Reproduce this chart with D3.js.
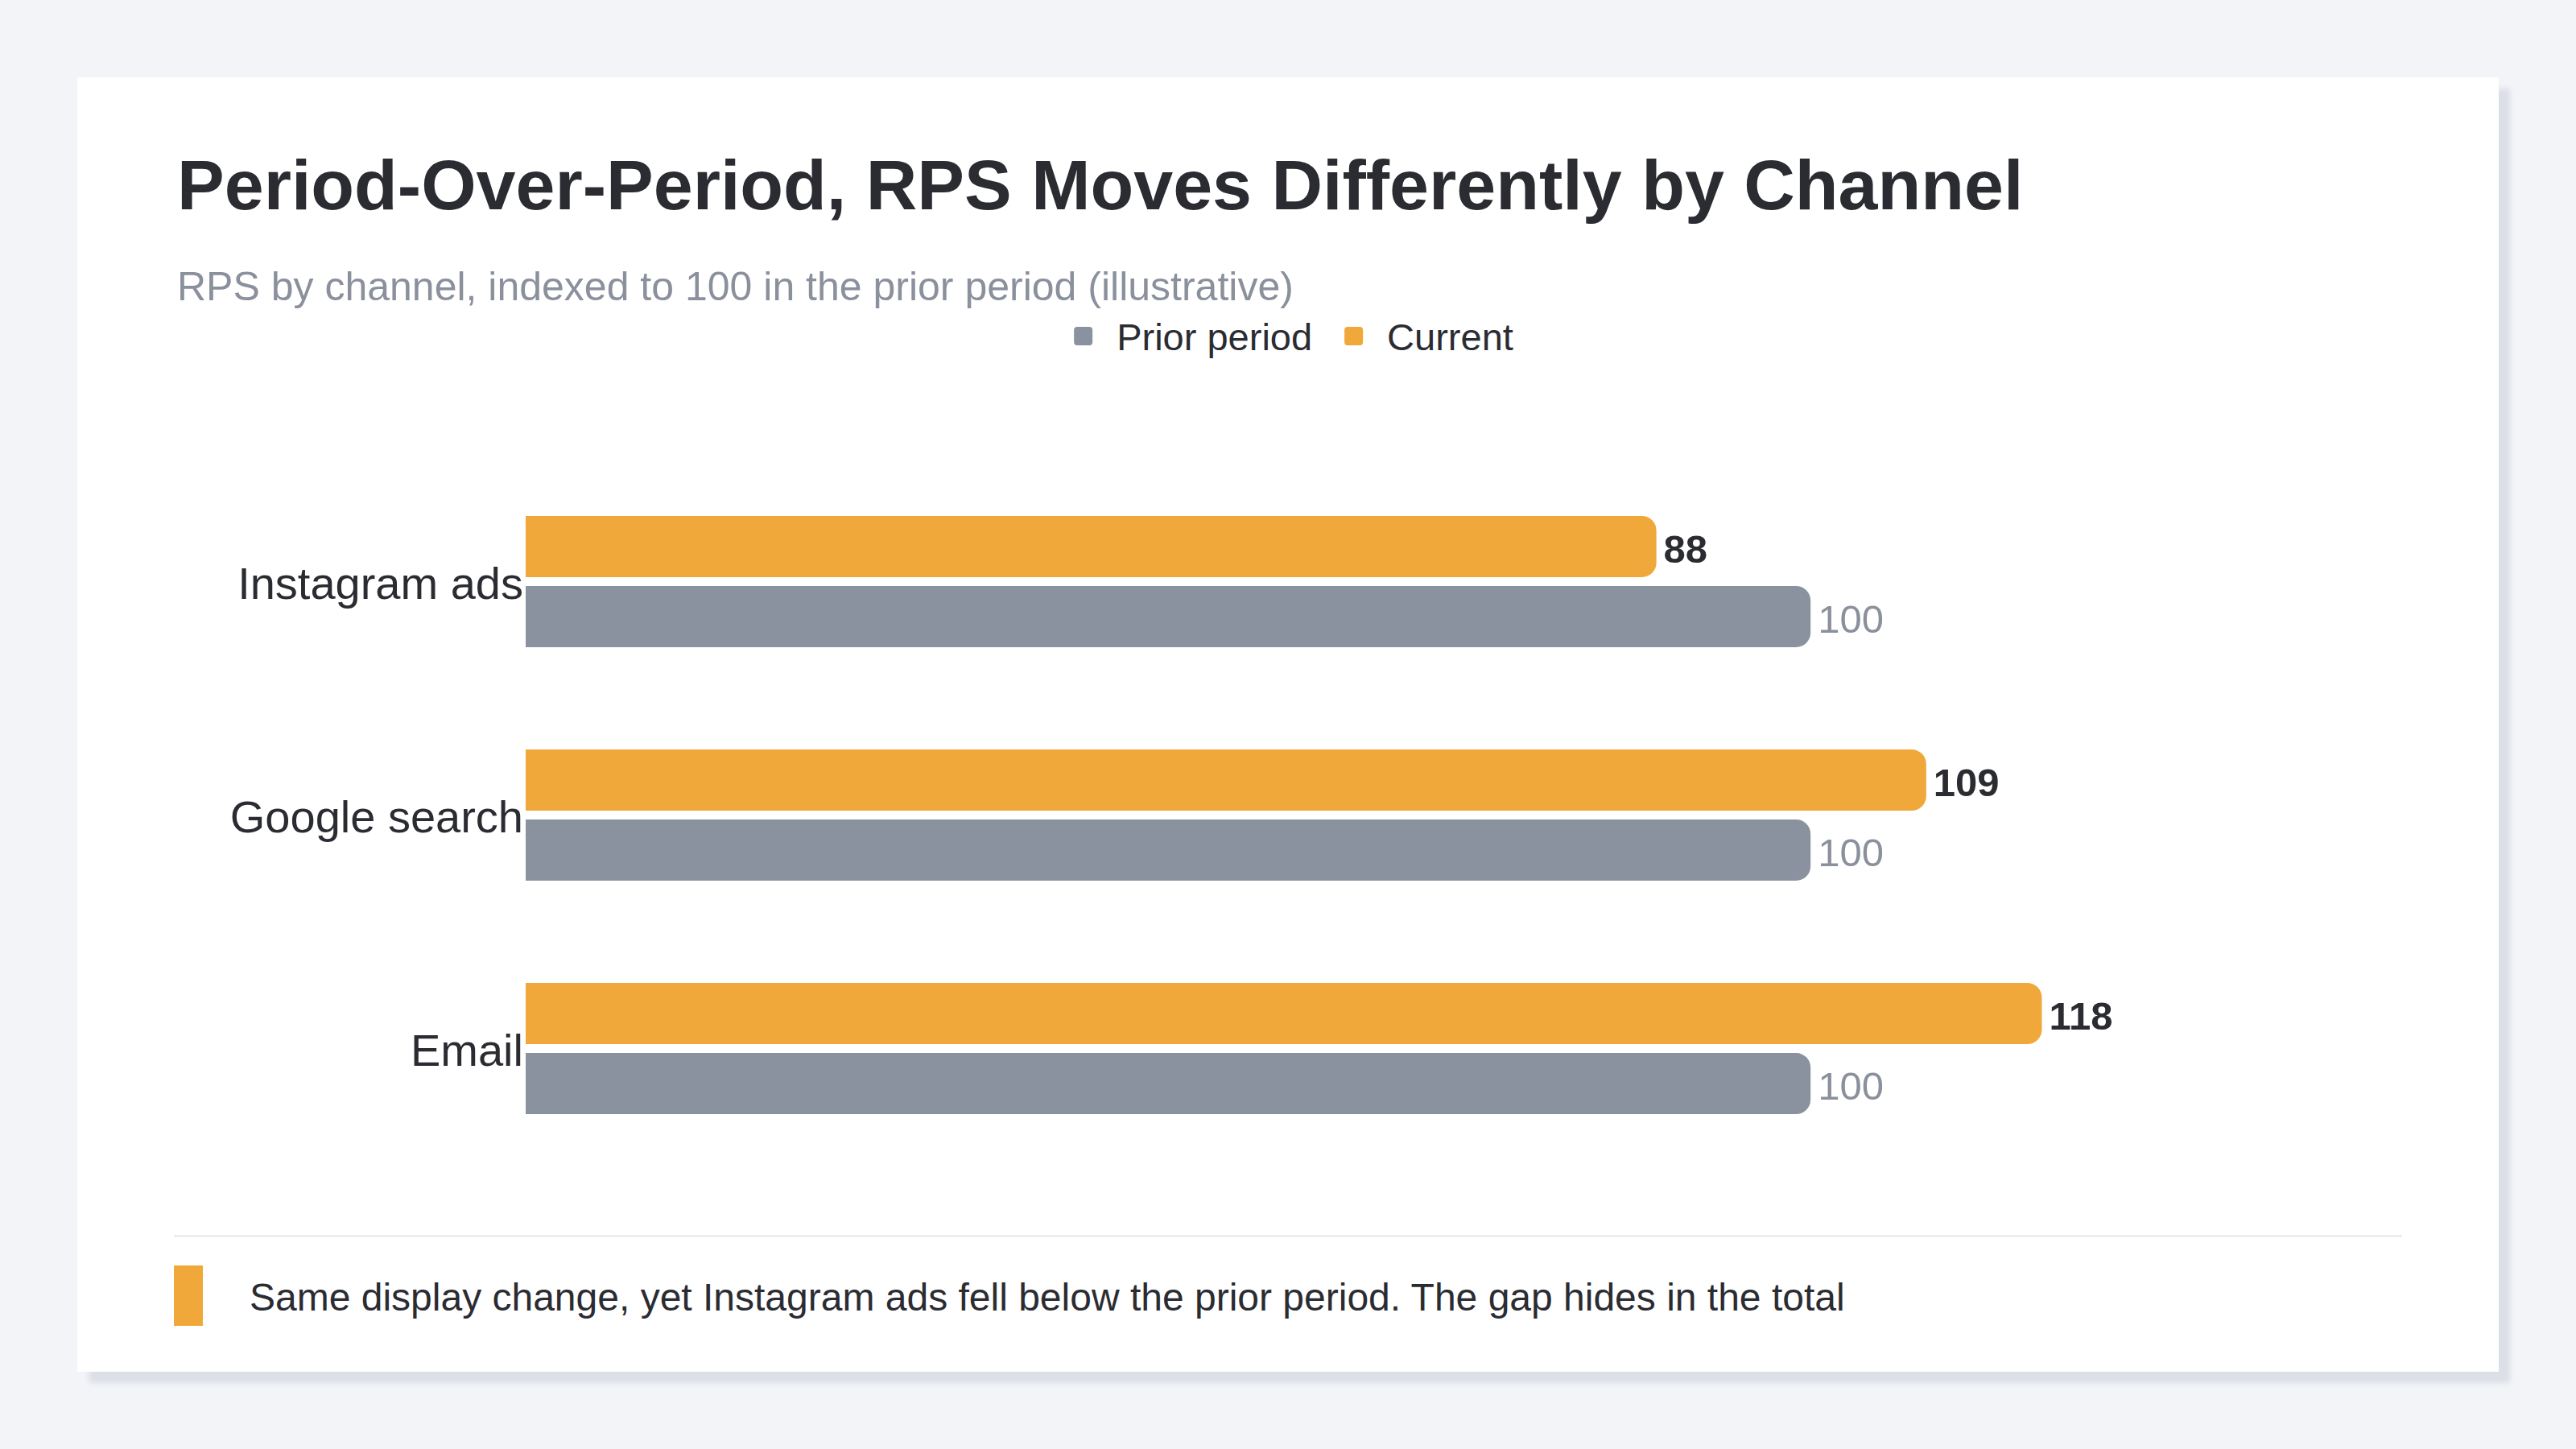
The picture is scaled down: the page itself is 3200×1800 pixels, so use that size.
<!DOCTYPE html>
<html>
<head>
<meta charset="utf-8">
<script src="https://cdn.jsdelivr.net/npm/d3@7"></script>
<style>
  html, body { margin: 0; padding: 0; background: #f3f4f8; }
  svg { display: block; }
  text { font-family: "Liberation Sans", Arial, Helvetica, sans-serif; }
</style>
</head>
<body>
<script>
// chart data
const channels = ["Instagram ads", "Google search", "Email"];
const priorValues = [100, 100, 100];
const currentValues = [88, 109, 118];
const seriesNames = ["Prior period", "Current"];
const seriesColors = ["#8a929f", "#f0a83a"];

const titleText = "Period-Over-Period, RPS Moves Differently by Channel";
const subtitleText = "RPS by channel, indexed to 100 in the prior period (illustrative)";
const noteText = "Same display change, yet Instagram ads fell below the prior period. The gap hides in the total";

const W = 3200, H = 1800;
const card = { x: 96, y: 96, w: 3008, h: 1608 };

const svg = d3.select("body").append("svg")
    .attr("width", W)
    .attr("height", H);

// background + card with a soft offset shadow
svg.append("rect").attr("width", W).attr("height", H).attr("fill", "#f3f4f8");

const defs = svg.append("defs");
defs.append("filter").attr("id", "blur")
    .attr("x", "-5%").attr("y", "-5%").attr("width", "110%").attr("height", "110%")
    .append("feGaussianBlur").attr("stdDeviation", 3);

svg.append("rect")
    .attr("x", card.x + 14).attr("y", card.y + 14)
    .attr("width", card.w).attr("height", card.h)
    .attr("fill", "#dcdfe6")
    .attr("filter", "url(#blur)");

svg.append("rect")
    .attr("x", card.x).attr("y", card.y)
    .attr("width", card.w).attr("height", card.h)
    .attr("fill", "#ffffff");

// title and subtitle
svg.append("text")
    .attr("x", 220).attr("y", 260)
    .style("font-size", "88px")
    .style("font-weight", "700")
    .attr("fill", "#2b2c32")
    .text(titleText);

svg.append("text")
    .attr("x", 220).attr("y", 373)
    .style("font-size", "50px")
    .attr("fill", "#8a909c")
    .text(subtitleText);

// scales
const x = d3.scaleLinear()
    .domain([0, 130])
    .range([653, 2728]);

const y0 = d3.scaleBand()
    .domain(channels)
    .range([496, 1529])
    .paddingInner(0.438)
    .paddingOuter(0.5);

const y1 = d3.scaleBand()
    .domain(["Current", "Prior period"])
    .range([0, y0.bandwidth()])
    .paddingInner(11 / 87);

const color = d3.scaleOrdinal().domain(seriesNames).range(seriesColors);

// legend, centered in the card
const legend = svg.append("g").attr("class", "legend");
const items = legend.selectAll("g")
    .data(seriesNames)
    .enter().append("g");

items.append("rect")
    .attr("width", 23).attr("height", 23)
    .attr("y", -29)
    .attr("rx", 4)
    .attr("fill", d => color(d));

items.append("text")
    .attr("x", 53)
    .style("font-size", "47px")
    .attr("fill", "#2b2c32")
    .text(d => d);

let offset = 0;
const itemGap = 40;
items.each(function() {
    const w = d3.select(this).select("text").node().getComputedTextLength() + 53;
    d3.select(this).attr("transform", "translate(" + offset + ",0)");
    offset += w + itemGap;
});
const legendWidth = offset - itemGap;
legend.attr("transform", "translate(" + (1607 - legendWidth / 2) + ",435)");

// rounded-right bar shape
function barPath(x0, y, w, h, r) {
    r = Math.min(r, w, h / 2);
    return "M" + x0 + "," + y +
        "H" + (x0 + w - r) +
        "A" + r + "," + r + " 0 0 1 " + (x0 + w) + "," + (y + r) +
        "V" + (y + h - r) +
        "A" + r + "," + r + " 0 0 1 " + (x0 + w - r) + "," + (y + h) +
        "H" + x0 + "Z";
}

// build rows from the arrays
const rows = channels.map((c, i) => ({
    channel: c,
    bars: [
        { key: "Current", value: currentValues[i] },
        { key: "Prior period", value: priorValues[i] }
    ]
}));

const groups = svg.selectAll(".group")
    .data(rows)
    .enter().append("g")
    .attr("class", "group")
    .attr("transform", d => "translate(0," + y0(d.channel) + ")");

groups.selectAll("path")
    .data(d => d.bars)
    .enter().append("path")
    .attr("d", d => barPath(x(0), y1(d.key), x(d.value) - x(0), y1.bandwidth(), 18))
    .attr("fill", d => color(d.key));

groups.selectAll(".val")
    .data(d => d.bars)
    .enter().append("text")
    .attr("class", "val")
    .attr("x", d => x(d.value) + 9)
    .attr("y", d => y1(d.key) + y1.bandwidth() / 2)
    .attr("dy", "0.4em")
    .style("font-size", "49px")
    .style("font-weight", d => d.key === "Current" ? "700" : "400")
    .attr("fill", d => d.key === "Current" ? "#2b2c32" : "#8a909c")
    .text(d => d.value);

// category axis
const yAxis = svg.append("g")
    .attr("transform", "translate(" + x(0) + ",0)")
    .call(d3.axisLeft(y0).tickSize(0).tickPadding(3));

yAxis.select(".domain").remove();
yAxis.selectAll("text")
    .attr("dy", "0.38em")
    .style("font-size", "56px")
    .style("font-family", "'Liberation Sans', Arial, Helvetica, sans-serif")
    .attr("fill", "#2b2c32");

// footer note
svg.append("rect")
    .attr("x", 216).attr("y", 1534)
    .attr("width", 2984 - 216).attr("height", 3)
    .attr("fill", "#eceef2");

svg.append("rect")
    .attr("x", 216).attr("y", 1572)
    .attr("width", 36).attr("height", 75)
    .attr("fill", seriesColors[1]);

svg.append("text")
    .attr("x", 310).attr("y", 1628)
    .style("font-size", "48px")
    .attr("fill", "#2b2c32")
    .text(noteText);
</script>
</body>
</html>
